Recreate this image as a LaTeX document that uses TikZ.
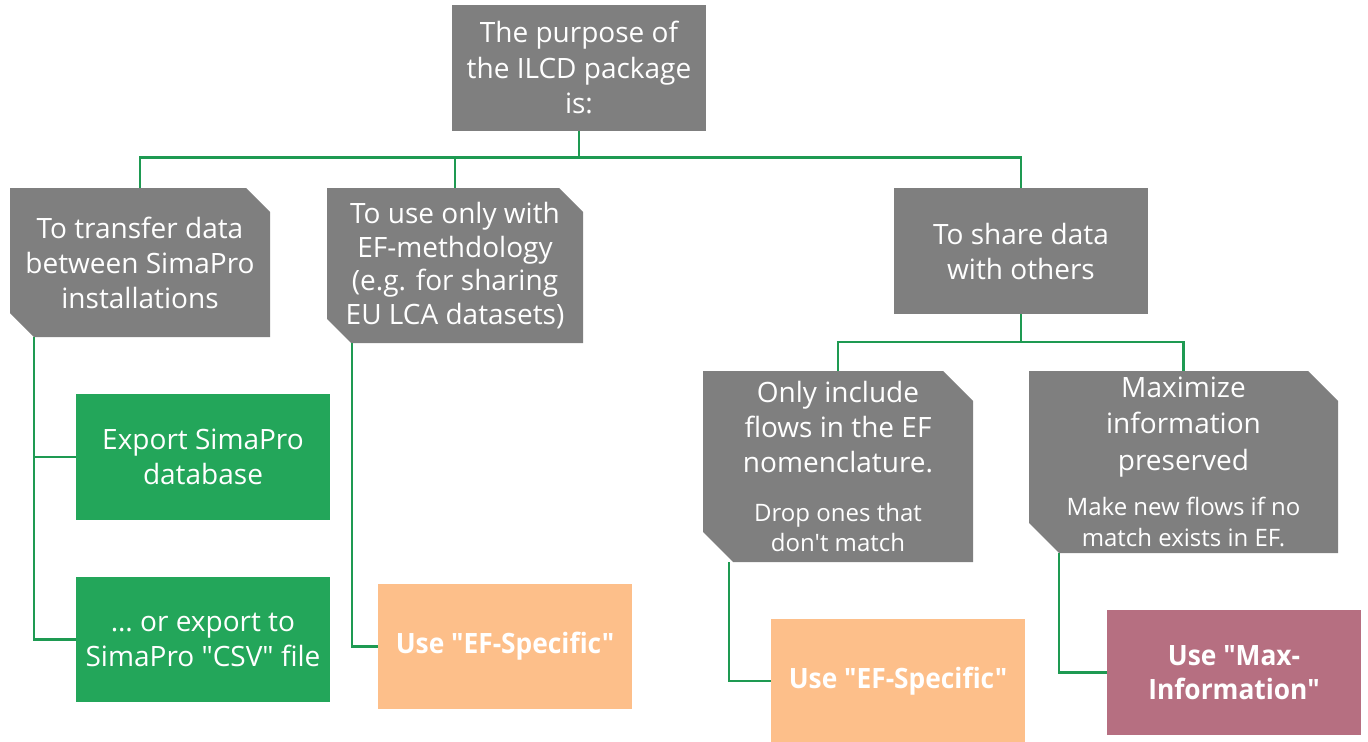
\documentclass[tikz,border=0pt]{standalone}
\usepackage{fontspec}
\setmainfont{Open Sans}[Ligatures=TeXOff]
\newfontfamily\condbf[FakeStretch=0.94]{Open Sans}
\usetikzlibrary{backgrounds}
\definecolor{boxgrey}{HTML}{7F7F7F}
\definecolor{boxgreen}{HTML}{23A65A}
\definecolor{boxorange}{HTML}{FDBF8A}
\definecolor{boxmauve}{HTML}{B66F81}
\definecolor{linegreen}{HTML}{1E9A52}
\newcommand\snipfill[3]{%
  \fill[#2] (#1.north west) -- ([xshift=-#3*0.75pt]#1.north east) -- ([yshift=-#3*0.75pt]#1.north east)
    -- (#1.south east) -- ([xshift=#3*0.75pt]#1.south west) -- ([yshift=#3*0.75pt]#1.south west) -- cycle;}
\newcommand\smalltxt{\fontsize{18}{22.5}\selectfont}
\tikzset{
  base/.style={inner sep=0pt, outer sep=0pt, align=center, text=white, font=\fontsize{21}{26.25}\selectfont},
  greybox/.style={base},
  plainbox/.style={base, fill=boxgrey},
  greenbox/.style={base, fill=boxgreen, minimum width=254*0.75pt, minimum height=126*0.75pt},
  orangebox/.style={base, fill=boxorange, minimum width=254*0.75pt, minimum height=125*0.75pt, font=\condbf\bfseries\fontsize{21}{26.25}\selectfont},
  mauvebox/.style={base, fill=boxmauve, minimum width=254*0.75pt, minimum height=125*0.75pt, font=\condbf\bfseries\fontsize{21}{25}\selectfont},
  conn/.style={draw=linegreen, line width=1.8pt},
}
\begin{document}
\begin{tikzpicture}[x=0.75pt, y=-0.75pt]
\useasboundingbox (0,0) rectangle (1368,742);
% top
\node[plainbox, minimum width=254*0.75pt, minimum height=124*0.75pt, font=\fontsize{21}{26.6}\selectfont] (top) at (579,67.5)
  {The purpose of\\the ILCD package\\is:};
% second level
\node[greybox, minimum width=260*0.75pt, minimum height=149*0.75pt] (b1) at (140,262.5)
  {To transfer data\\between SimaPro\\installations};
\node[greybox, minimum width=256*0.75pt, minimum height=155*0.75pt, font=\fontsize{21}{25.3}\selectfont] (b2) at (455,265.5)
  {To use only with\\EF-methdology\\(e.g. for sharing\\EU LCA datasets)};
\node[plainbox, minimum width=254*0.75pt, minimum height=126*0.75pt] (b3) at (1021,251)
  {To share data\\with others};
% third level
\node[greybox, minimum width=270*0.75pt, minimum height=191*0.75pt] (b4) at (838,466.5)
  {Only include\\flows in the EF\\nomenclature.\\[10pt]\smalltxt Drop ones that\\[-3.75pt]\smalltxt don't match};
\node[greybox, minimum width=309*0.75pt, minimum height=182*0.75pt, font=\fontsize{21}{27.2}\selectfont] (b5) at (1183.5,462)
  {Maximize\\information\\preserved\\[7pt]\smalltxt Make new flows if no\\[-4.2pt]\smalltxt match exists in EF.};
% leaves
\node[greenbox] (g1) at (203,457) {Export SimaPro\\database};
\node[greenbox, minimum height=125*0.75pt] (g2) at (203,639.5) {\dots\ or export to\\SimaPro "CSV" file};
\node[orangebox] (o1) at (505,646.5) {Use "EF-Specific"};
\node[orangebox, minimum height=124*0.75pt] (o2) at (898,681) {Use "EF-Specific"};
\node[mauvebox] (m1) at (1234,672.5) {Use "Max-\\Information"};
\begin{pgfonlayer}{background}
  \fill[boxgrey] (top.north west) rectangle ([yshift=-1.5*0.75pt]top.south east);
  \snipfill{b1}{boxgrey}{24}
  \snipfill{b2}{boxgrey}{24}
  \snipfill{b4}{boxgrey}{30}
  \snipfill{b5}{boxgrey}{30}
\end{pgfonlayer}
% connectors
\draw[conn] ([yshift=-1.5*0.75pt]top.south) -- ++(0,26.5) -| (b1.north);
\draw[conn] ([yshift=-1.5*0.75pt]top.south) -- ++(0,26.5) -| (b2.north);
\draw[conn] ([yshift=-1.5*0.75pt]top.south) -- ++(0,26.5) -| (b3.north);
\draw[conn] (b3.south) -- ++(0,28) -| (b4.north);
\draw[conn] (b3.south) -- ++(0,28) -| (b5.north);
\draw[conn] ([xshift=24*0.75pt]b1.south west) |- (g1.west);
\draw[conn] ([xshift=24*0.75pt]b1.south west) |- (g2.west);
\draw[conn] ([xshift=25*0.75pt]b2.south west) |- (o1.west);
\draw[conn] ([xshift=26*0.75pt]b4.south west) |- (o2.west);
\draw[conn] ([xshift=30*0.75pt]b5.south west) |- (m1.west);
\end{tikzpicture}
\end{document}
